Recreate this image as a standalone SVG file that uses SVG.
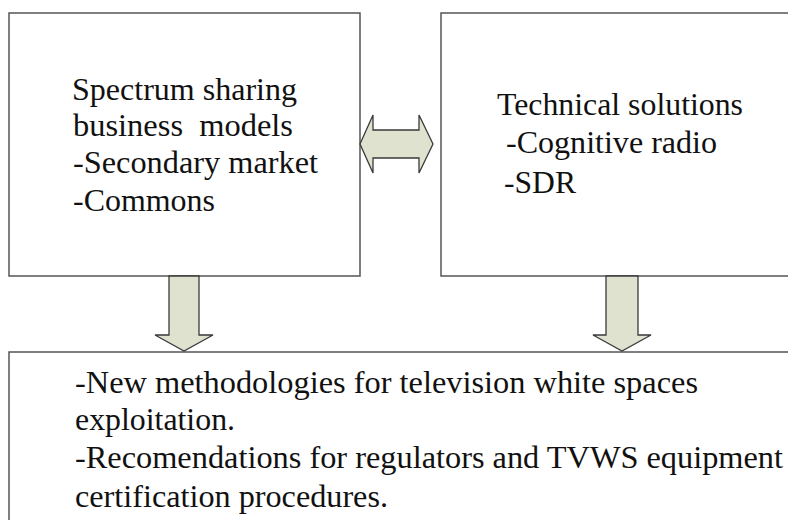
<svg xmlns="http://www.w3.org/2000/svg" width="788" height="520" viewBox="0 0 788 520">
  <style>
    .box { fill: #ffffff; stroke: #555555; stroke-width: 1.5; }
    .arrow { fill: #dfe2cf; stroke: #3a3a3a; stroke-width: 1.3; stroke-linejoin: miter; }
    .label { font-family: "Liberation Serif", "Times New Roman", Times, Tinos, "Nimbus Roman", "Nimbus Roman No9 L", "Noto Serif", "DejaVu Serif", FreeSerif, serif; font-size: 32px; fill: #111111; }
  </style>
  <rect width="788" height="520" fill="#ffffff"/>

  <g id="business-models">
    <rect class="box" x="9" y="13" width="351" height="263"/>
    <text class="label" xml:space="preserve"><tspan x="72" y="100" textLength="225" lengthAdjust="spacingAndGlyphs">Spectrum sharing</tspan><tspan x="73" y="136" textLength="220" lengthAdjust="spacingAndGlyphs">business  models</tspan><tspan x="73" y="173" textLength="245" lengthAdjust="spacingAndGlyphs">-Secondary market</tspan><tspan x="73" y="211" textLength="142" lengthAdjust="spacingAndGlyphs">-Commons</tspan></text>
  </g>

  <g id="technical-solutions">
    <rect class="box" x="441" y="13" width="360" height="263"/>
    <text class="label"><tspan x="497" y="115" textLength="246" lengthAdjust="spacingAndGlyphs">Technical solutions</tspan><tspan x="506" y="153" textLength="211" lengthAdjust="spacingAndGlyphs">-Cognitive radio</tspan><tspan x="504" y="193" textLength="72" lengthAdjust="spacingAndGlyphs">-SDR</tspan></text>
  </g>

  <g id="outcomes">
    <rect class="box" x="9" y="352" width="800" height="200"/>
    <text class="label"><tspan x="75" y="393" textLength="623" lengthAdjust="spacingAndGlyphs">-New methodologies for television white spaces</tspan><tspan x="75" y="430" textLength="160" lengthAdjust="spacingAndGlyphs">exploitation.</tspan><tspan x="75" y="468" textLength="708" lengthAdjust="spacingAndGlyphs">-Recomendations for regulators and TVWS equipment</tspan><tspan x="75" y="507" textLength="313" lengthAdjust="spacingAndGlyphs">certification procedures.</tspan></text>
  </g>

  <g id="connectors">
    <polygon class="arrow" points="360,144 373,115 373,130 419,130 419,115 433,144 419,173 419,158 373,158 373,173"/>
    <polygon class="arrow" points="169,276 199,276 199,335 213,335 184,351 155,335 169,335"/>
    <polygon class="arrow" points="606,276 638,276 638,335 651,335 622,351 593,335 606,335"/>
  </g>
</svg>
